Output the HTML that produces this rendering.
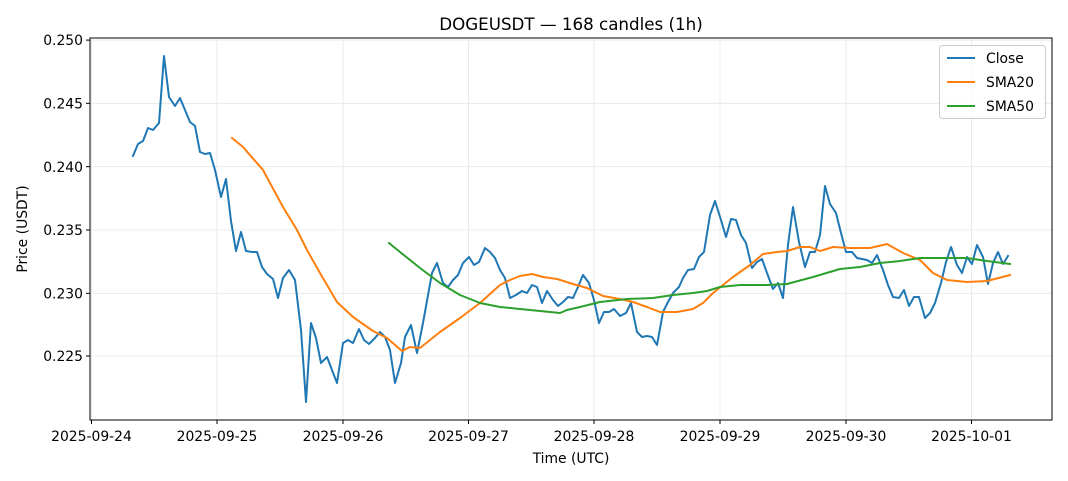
<!DOCTYPE html>
<html><head><meta charset="utf-8"><style>
body{margin:0;background:#fff}
svg{display:block;font-family:"DejaVu Sans","Liberation Sans",sans-serif}
</style></head><body>
<svg width="1068" height="481" viewBox="0 0 1068 481" xmlns="http://www.w3.org/2000/svg">
<rect width="1068" height="481" fill="#fff"/>
<g stroke="#e6e6e6" stroke-width="0.8">
<line x1="91.5" y1="38" x2="91.5" y2="420"/><line x1="217" y1="38" x2="217" y2="420"/><line x1="343" y1="38" x2="343" y2="420"/><line x1="468.5" y1="38" x2="468.5" y2="420"/><line x1="594" y1="38" x2="594" y2="420"/><line x1="720" y1="38" x2="720" y2="420"/><line x1="846" y1="38" x2="846" y2="420"/><line x1="971.5" y1="38" x2="971.5" y2="420"/>
<line x1="90" y1="40.1" x2="1052" y2="40.1"/><line x1="90" y1="103.3" x2="1052" y2="103.3"/><line x1="90" y1="166.7" x2="1052" y2="166.7"/><line x1="90" y1="230" x2="1052" y2="230"/><line x1="90" y1="293.3" x2="1052" y2="293.3"/><line x1="90" y1="356" x2="1052" y2="356"/>
</g>
<g fill="none" stroke-width="2" stroke-linejoin="round" stroke-linecap="square">
<polyline stroke="#1f77b4" points="133,156 138,144 143,141 148,128 153,130 159,123 164,56 169,97 175,106 180,98 185,110 190,122 195,126 200,152 205,154 210,153 215,170 221,197 226,179 231,221 236,251 241,232 246,251 252,252 257,252 262,267 267,274 273,279 278,298 283,278 289,270 295,280 301,330 306,402 311,323 316,338 321,363 327,357 332,370 337,383 343,343 348,340 353,343 359,329 364,340 369,344 375,338 380,332 385,337 390,350 395,383 401,363 405,337 411,325 417,353 423,323 432,273 437,263 443,283 448,287 453,280 458,275 463,263 469,257 474,265 479,262 485,248 490,252 495,258 500,270 505,278 510,298 516,295 522,291 527,293 532,285 537,287 542,303 547,291 553,300 558,306 563,302 568,297 573,298 578,287 583,275 589,283 594,300 599,323 604,312 609,312 614,309 620,316 626,313 631,303 637,332 642,337 647,336 652,337 657,345 663,312 668,302 673,293 679,287 683,278 688,270 694,269 699,257 704,252 710,215 715,201 721,220 726,237 731,219 736,220 741,235 746,243 752,268 757,262 762,259 767,273 773,289 778,283 783,298 788,245 793,207 799,242 805,267 810,252 815,252 820,235 825,186 830,204 836,213 841,233 846,252 852,252 857,258 862,259 867,260 872,263 877,255 883,270 888,285 893,297 899,298 904,290 909,306 914,297 919,297 925,318 930,313 935,303 941,283 946,262 951,247 957,265 962,273 967,257 972,264 977,245 983,257 988,284 993,263 998,252 1003,264 1008,256"/>
<polyline stroke="#ff7f0e" points="232,138 243,147 263,170 283,207 297,230 307,250 320,273 337,302 353,317 373,331 387,338 402,351 410,347 420,348 440,332 460,318 480,303 500,285 510,280 520,276 532,274 543,277 557,279 573,284 587,288 603,296 620,299 633,302 647,307 660,312 677,312 693,309 703,303 713,293 733,277 750,265 763,254 777,252 787,251 800,247 810,247 820,251 833,247 850,248 870,248 887,244 903,253 920,260 933,273 947,280 967,282 987,281 1010,275"/>
<polyline stroke="#2ca02c" points="389,243 400,252 420,268 440,283 460,295 480,303 500,307 520,309 540,311 560,313 567,310 580,307 600,302 627,299 653,298 673,295 693,293 707,291 720,287 740,285 767,285 787,284 813,277 840,269 860,267 880,263 900,261 920,258 947,258 967,258 987,261 1010,264"/>
</g>
<rect x="90" y="38" width="962" height="382" fill="none" stroke="#000" stroke-width="1"/>
<g stroke="#000" stroke-width="1">
<line x1="91.5" y1="420" x2="91.5" y2="424"/><line x1="217" y1="420" x2="217" y2="424"/><line x1="343" y1="420" x2="343" y2="424"/><line x1="468.5" y1="420" x2="468.5" y2="424"/><line x1="594" y1="420" x2="594" y2="424"/><line x1="720" y1="420" x2="720" y2="424"/><line x1="846" y1="420" x2="846" y2="424"/><line x1="971.5" y1="420" x2="971.5" y2="424"/>
<line x1="86" y1="40.1" x2="90" y2="40.1"/><line x1="86" y1="103.3" x2="90" y2="103.3"/><line x1="86" y1="166.7" x2="90" y2="166.7"/><line x1="86" y1="230" x2="90" y2="230"/><line x1="86" y1="293.3" x2="90" y2="293.3"/><line x1="86" y1="356" x2="90" y2="356"/>
</g>
<g font-size="13.9" fill="#000" text-anchor="middle">
<text x="91.5" y="441">2025-09-24</text><text x="217" y="441">2025-09-25</text><text x="343" y="441">2025-09-26</text><text x="468.5" y="441">2025-09-27</text><text x="594" y="441">2025-09-28</text><text x="720" y="441">2025-09-29</text><text x="846" y="441">2025-09-30</text><text x="971.5" y="441">2025-10-01</text>
</g>
<g font-size="13.9" fill="#000" text-anchor="end">
<text x="83" y="45.2">0.250</text><text x="83" y="108.4">0.245</text><text x="83" y="171.8">0.240</text><text x="83" y="235.1">0.235</text><text x="83" y="298.4">0.230</text><text x="83" y="361.1">0.225</text>
</g>
<text x="571" y="30" font-size="16.7" text-anchor="middle">DOGEUSDT — 168 candles (1h)</text>
<text x="571" y="463" font-size="13.9" text-anchor="middle">Time (UTC)</text>
<text transform="translate(27,229) rotate(-90)" font-size="13.9" text-anchor="middle">Price (USDT)</text>
<rect x="939.5" y="45.5" width="106" height="73" rx="3" fill="#fff" fill-opacity="0.8" stroke="#ccc"/>
<g stroke-width="2"><line x1="947" y1="58" x2="975" y2="58" stroke="#1f77b4"/><line x1="947" y1="82" x2="975" y2="82" stroke="#ff7f0e"/><line x1="947" y1="106" x2="975" y2="106" stroke="#2ca02c"/></g>
<g font-size="13.9" fill="#000"><text x="986" y="63">Close</text><text x="986" y="87">SMA20</text><text x="986" y="111">SMA50</text></g>
</svg>
</body></html>
